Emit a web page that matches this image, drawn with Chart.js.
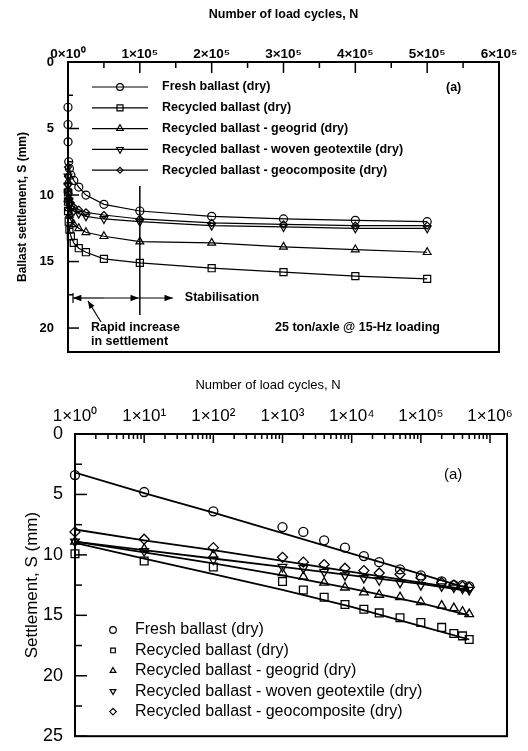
<!DOCTYPE html>
<html>
<head>
<meta charset="utf-8">
<title>Ballast settlement vs number of load cycles</title>
<script src="https://cdn.jsdelivr.net/npm/chart.js@4.4.1/dist/chart.umd.min.js"></script>
<style>
  html, body { margin: 0; padding: 0; background: #fff; }
  canvas { display: block; }
</style>
</head>
<body>
<canvas id="linearChart" width="528" height="370"></canvas>
<canvas id="logChart" width="528" height="381"></canvas>
<script>
var seriesNames = [
  'Fresh ballast (dry)',
  'Recycled ballast (dry)',
  'Recycled ballast - geogrid (dry)',
  'Recycled ballast - woven geotextile (dry)',
  'Recycled ballast - geocomposite (dry)'
];
var loadCycles = [1, 10, 100, 1000, 2000, 4000, 8000, 15000, 25000, 50000, 100000, 200000, 300000, 400000, 500000];

// upper panel (linear N)
var topFresh = [3.4, 4.7, 6.0, 7.5, 8.0, 8.5, 8.9, 9.4, 10.0, 10.7, 11.2, 11.6, 11.8, 11.9, 12.0];
var topRecycled = [9.8, 10.5, 11.2, 12.0, 12.6, 13.1, 13.6, 14.0, 14.3, 14.8, 15.1, 15.5, 15.8, 16.1, 16.3];
var topGeogrid = [9.0, 9.6, 10.3, 11.0, 11.5, 11.9, 12.2, 12.5, 12.8, 13.1, 13.5, 13.6, 13.9, 14.1, 14.3];
var topWoven = [8.6, 9.3, 9.8, 10.4, 10.7, 11.0, 11.2, 11.4, 11.6, 11.8, 12.0, 12.3, 12.4, 12.5, 12.5];
var topGeocomposite = [7.9, 8.6, 9.2, 9.9, 10.3, 10.6, 10.9, 11.1, 11.3, 11.5, 11.8, 12.1, 12.2, 12.3, 12.3];

// lower panel (log N), measured points
var logFresh = [3.4, 4.8, 6.4, 7.7, 8.1, 8.8, 9.4, 10.1, 10.6, 11.2, 11.7, 12.2, 12.5, 12.5, 12.6];
var logRecycled = [9.9, 10.5, 11.0, 12.2, 12.9, 13.5, 14.1, 14.5, 14.8, 15.2, 15.6, 16.0, 16.5, 16.7, 17.0];
var logGeogrid = [8.9, 9.5, 10.0, 11.5, 11.8, 12.3, 12.7, 13.1, 13.3, 13.5, 13.9, 14.2, 14.4, 14.7, 14.9];
var logWoven = [8.9, 9.7, 10.4, 11.0, 11.1, 11.4, 11.7, 11.9, 12.1, 12.3, 12.5, 12.6, 12.7, 12.8, 12.9];
var logGeocomposite = [8.1, 8.7, 9.4, 10.2, 10.6, 10.8, 11.1, 11.3, 11.5, 11.6, 11.9, 12.3, 12.5, 12.6, 12.7];

// lower panel, fitted trend lines
var fitCycles = [1, 10, 100, 1000, 10000, 100000, 500000];
var fitFresh = [3.2, 4.9, 6.5, 8.2, 9.9, 11.6, 12.8];
var fitRecycled = [9.0, 10.3, 11.6, 12.9, 14.3, 15.9, 17.0];
var fitGeogrid = [8.9, 9.8, 10.7, 11.7, 12.8, 14.0, 15.0];
var fitWoven = [8.9, 9.6, 10.3, 11.0, 11.7, 12.4, 13.0];
var fitGeocomposite = [7.9, 8.8, 9.6, 10.5, 11.4, 12.3, 12.9];

// axis ticks and labels
var topXMajor = [0, 100000, 200000, 300000, 400000, 500000, 600000];
var topXLabels = ['0×10⁰', '1×10⁵', '2×10⁵', '3×10⁵', '4×10⁵', '5×10⁵', '6×10⁵'];
var topYMajor = [0, 5, 10, 15, 20];
var topYLabels = ['0', '5', '10', '15', '20'];
var logXMajor = [1, 10, 100, 1000, 10000, 100000, 1000000];
var logXLabels = ['1×10⁰', '1×10¹', '1×10²', '1×10³', '1×10⁴', '1×10⁵', '1×10⁶'];
var logYMajor = [0, 5, 10, 15, 20, 25];
var logYLabels = ['0', '5', '10', '15', '20', '25'];
var stabilisationN = 100000;

var topSeries = [topFresh, topRecycled, topGeogrid, topWoven, topGeocomposite];
var logSeries = [logFresh, logRecycled, logGeogrid, logWoven, logGeocomposite];
var fitSeries = [fitFresh, fitRecycled, fitGeogrid, fitWoven, fitGeocomposite];

var FONT = '"Liberation Sans", Arial, Helvetica, sans-serif';
var pointStyles = ['circle', 'rect', 'triangle', 'triangle', 'rectRot'];
var pointRotations = [0, 0, 0, 180, 0];
var topRadius = [4, 5, 4.5, 4.5, 3.5];
var logRadius = [4.5, 5.5, 5, 5, 5];

Chart.defaults.font.family = FONT;
Chart.defaults.color = '#000';

function pairs(xs, ys) {
  return xs.map(function (x, i) { return { x: x, y: ys[i] }; });
}

function withMinor(majors, minorsBetween) {
  var out = [];
  majors.forEach(function (v, i) {
    out.push(v);
    if (i < majors.length - 1) minorsBetween(v, majors[i + 1]).forEach(function (m) { out.push(m); });
  });
  return out;
}

function labelFrom(majors, labels) {
  return function (value) {
    var i = majors.indexOf(value);
    return i >= 0 ? labels[i] : '';
  };
}

function marker(ctx, i, x, y, r) {
  ctx.save();
  ctx.fillStyle = 'rgba(0,0,0,0)';
  ctx.strokeStyle = '#000';
  ctx.lineWidth = 1.2;
  Chart.helpers.drawPoint(ctx, { pointStyle: pointStyles[i], rotation: pointRotations[i], radius: r, borderWidth: 1.2 }, x, y);
  ctx.restore();
}

function arrow(ctx, x1, y1, x2, y2, head) {
  var ang = Math.atan2(y2 - y1, x2 - x1);
  ctx.beginPath(); ctx.moveTo(x1, y1); ctx.lineTo(x2, y2); ctx.stroke();
  ctx.beginPath();
  ctx.moveTo(x2, y2);
  ctx.lineTo(x2 - head * Math.cos(ang - 0.38), y2 - head * Math.sin(ang - 0.38));
  ctx.lineTo(x2 - head * Math.cos(ang + 0.38), y2 - head * Math.sin(ang + 0.38));
  ctx.closePath(); ctx.fill();
}

// frame + tick marks pointing into the plot
function frameTicks(xLen, yLen, frameWidth) {
  return {
    id: 'frameTicks',
    afterDraw: function (chart) {
      var ctx = chart.ctx, a = chart.chartArea;
      ctx.save();
      ctx.strokeStyle = '#000';
      ctx.lineWidth = 1.5;
      chart.scales.x.ticks.forEach(function (t) {
        var p = chart.scales.x.getPixelForValue(t.value);
        ctx.beginPath(); ctx.moveTo(p, a.top); ctx.lineTo(p, a.top + (t.label ? xLen[0] : xLen[1])); ctx.stroke();
      });
      chart.scales.y.ticks.forEach(function (t) {
        var p = chart.scales.y.getPixelForValue(t.value);
        ctx.beginPath(); ctx.moveTo(a.left, p); ctx.lineTo(a.left + (t.label ? yLen[0] : yLen[1]), p); ctx.stroke();
      });
      ctx.lineWidth = frameWidth;
      ctx.strokeRect(a.left, a.top, a.right - a.left, a.bottom - a.top);
      ctx.restore();
    }
  };
}

var topDecor = {
  id: 'topDecor',
  afterDraw: function (chart) {
    var ctx = chart.ctx, xs = chart.scales.x;
    var x0 = xs.getPixelForValue(0), x1 = xs.getPixelForValue(stabilisationN);
    ctx.save();
    ctx.fillStyle = '#000'; ctx.strokeStyle = '#000';
    ctx.font = 'bold 12.5px ' + FONT;
    ctx.textBaseline = 'middle';
    seriesNames.forEach(function (name, i) {
      var y = 87 + i * 20.8;
      ctx.lineWidth = 1.2;
      ctx.beginPath(); ctx.moveTo(92, y); ctx.lineTo(148, y); ctx.stroke();
      marker(ctx, i, 120, y, topRadius[i] * 0.85);
      ctx.fillText(name, 162, y);
    });
    ctx.fillText('(a)', 446, 88);

    ctx.lineWidth = 1.5;
    ctx.beginPath(); ctx.moveTo(x1, 186); ctx.lineTo(x1, 315); ctx.stroke();
    ctx.lineWidth = 1.2;
    var mid = (x0 + x1) / 2;
    arrow(ctx, mid, 298, x0 + 5, 298, 9);
    arrow(ctx, mid, 298, x1 - 1, 298, 9);
    arrow(ctx, x1, 298, x1 + 33, 298, 9);
    ctx.beginPath(); ctx.moveTo(x0 + 5, 293); ctx.lineTo(x0 + 5, 303); ctx.stroke();
    ctx.fillText('Stabilisation', x1 + 45, 298);
    arrow(ctx, x0 + 33, 322, x0 + 20, 301, 8);
    ctx.fillText('Rapid increase', 91, 328);
    ctx.fillText('in settlement', 91, 342);
    ctx.fillText('25 ton/axle @ 15-Hz loading', 275, 328);
    ctx.restore();
  }
};

var logDecor = {
  id: 'logDecor',
  afterDraw: function (chart) {
    var ctx = chart.ctx;
    ctx.save();
    ctx.fillStyle = '#000'; ctx.strokeStyle = '#000';
    ctx.textBaseline = 'middle';
    ctx.font = '13px ' + FONT;
    ctx.textAlign = 'center';
    ctx.fillText('Number of load cycles, N', 268, 15);
    ctx.textAlign = 'left';
    ctx.font = '15px ' + FONT;
    ctx.fillText('(a)', 444, 105);
    ctx.font = '16px ' + FONT;
    seriesNames.forEach(function (name, i) {
      var y = 260 + i * 20.4;
      marker(ctx, i, 113, y, 3.3);
      ctx.fillText(name, 135, y);
    });
    ctx.restore();
  }
};

// upper panel: linear N
new Chart(document.getElementById('linearChart'), {
  type: 'line',
  data: {
    datasets: topSeries.map(function (ys, i) {
      return {
        label: seriesNames[i],
        data: pairs(loadCycles, ys),
        borderColor: '#000',
        borderWidth: 1.2,
        tension: 0,
        pointStyle: pointStyles[i],
        pointRotation: pointRotations[i],
        pointRadius: topRadius[i],
        pointBackgroundColor: 'rgba(0,0,0,0)',
        pointBorderColor: '#000',
        pointBorderWidth: 1.2,
        clip: false
      };
    })
  },
  options: {
    responsive: false,
    animation: false,
    events: [],
    layout: { padding: { top: 0, left: 0, right: 29, bottom: 18 } },
    plugins: { legend: { display: false }, tooltip: { enabled: false } },
    scales: {
      x: {
        type: 'linear', position: 'top', min: 0, max: 600000,
        grid: { display: false }, border: { display: false },
        afterBuildTicks: function (s) {
          s.ticks = withMinor(topXMajor, function (a, b) { return [(a + b) / 2]; }).map(function (v) { return { value: v }; });
        },
        afterFit: function (s) { s.height = 62; },
        ticks: { autoSkip: false, maxRotation: 0, padding: -8, font: { size: 13.5, weight: 'bold' }, callback: labelFrom(topXMajor, topXLabels) },
        title: { display: true, text: 'Number of load cycles, N', font: { size: 12.5, weight: 'bold' }, padding: { top: 7.5, bottom: 0 } }
      },
      y: {
        type: 'linear', reverse: true, min: 0, max: 21.8,
        grid: { display: false }, border: { display: false },
        afterBuildTicks: function (s) {
          s.ticks = withMinor(topYMajor, function (a, b) { return [(a + b) / 2]; }).map(function (v) { return { value: v }; });
        },
        afterFit: function (s) { s.width = 68; },
        ticks: { autoSkip: false, padding: 6, font: { size: 13, weight: 'bold' }, callback: labelFrom(topYMajor, topYLabels) },
        title: { display: true, text: 'Ballast settlement, S (mm)', font: { size: 12, weight: 'bold' }, padding: { top: 15, bottom: 0 } }
      }
    }
  },
  plugins: [frameTicks([11, 6], [11, 5], 2), topDecor]
});

// lower panel: log N with fitted lines
var logDatasets = [];
fitSeries.forEach(function (ys, i) {
  logDatasets.push({
    label: seriesNames[i] + ' fit',
    data: pairs(fitCycles, ys),
    showLine: true,
    borderColor: '#000',
    borderWidth: 1.8,
    pointRadius: 0,
    tension: 0
  });
});
logSeries.forEach(function (ys, i) {
  logDatasets.push({
    label: seriesNames[i],
    data: pairs(loadCycles, ys),
    showLine: false,
    pointStyle: pointStyles[i],
    pointRotation: pointRotations[i],
    pointRadius: logRadius[i],
    pointBackgroundColor: 'rgba(0,0,0,0)',
    pointBorderColor: '#000',
    pointBorderWidth: 1.3,
    clip: false
  });
});

new Chart(document.getElementById('logChart'), {
  type: 'scatter',
  data: { datasets: logDatasets },
  options: {
    responsive: false,
    animation: false,
    events: [],
    layout: { padding: { top: 0, left: 0, right: 21, bottom: 11 } },
    plugins: { legend: { display: false }, tooltip: { enabled: false } },
    scales: {
      x: {
        type: 'logarithmic', position: 'top', min: 1, max: 1760000,
        grid: { display: false }, border: { display: false },
        afterBuildTicks: function (s) {
          s.ticks = withMinor(logXMajor, function (a) {
            return [2, 3, 4, 5, 6, 7, 8, 9].map(function (m) { return m * a; });
          }).map(function (v) { return { value: v }; });
        },
        afterFit: function (s) { s.height = 64; },
        ticks: { autoSkip: false, maxRotation: 0, padding: -1, font: { size: 17 }, callback: labelFrom(logXMajor, logXLabels) },
        title: { display: false }
      },
      y: {
        type: 'linear', reverse: true, min: 0, max: 25,
        grid: { display: false }, border: { display: false },
        afterBuildTicks: function (s) {
          s.ticks = withMinor(logYMajor, function (a, b) { return [(a + b) / 2]; }).map(function (v) { return { value: v }; });
        },
        afterFit: function (s) { s.width = 75; },
        ticks: { autoSkip: false, padding: 4, font: { size: 18 }, callback: labelFrom(logYMajor, logYLabels) },
        title: { display: true, text: 'Settlement, S (mm)', font: { size: 17 }, padding: { top: 22, bottom: 0 } }
      }
    }
  },
  plugins: [frameTicks([9, 5], [12, 7], 2), logDecor]
});
</script>
</body>
</html>
